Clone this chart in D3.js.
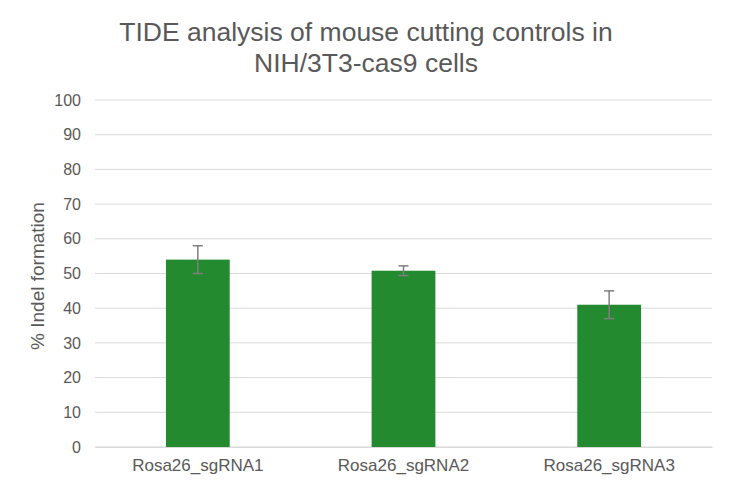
<!DOCTYPE html>
<html><head><meta charset="utf-8">
<script src="https://cdn.jsdelivr.net/npm/d3@7"></script>
<style>body{margin:0;background:#fff}svg{display:block;font-family:"Liberation Sans",Arial,sans-serif}</style>
</head><body><svg id="c" width="732" height="490"></svg>
<script>
const categories = ["Rosa26_sgRNA1","Rosa26_sgRNA2","Rosa26_sgRNA3"];
const values = [54, 50.8, 41];
const errors = [4, 1.4, 4];
const yTicks = [0,10,20,30,40,50,60,70,80,90,100];

const svg = d3.select("#c");
const m = {left:95, right:20, top:100, bottom:43};
const W = 732, H = 490;
const x = d3.scaleBand().domain(categories).range([m.left, W-m.right]).paddingInner(0.69).paddingOuter(0.345);
const y = d3.scaleLinear().domain([0,100]).range([H-m.bottom, m.top]);

svg.append("g").selectAll("line").data(yTicks).join("line")
  .attr("x1", m.left).attr("x2", W-m.right)
  .attr("y1", d=>y(d)).attr("y2", d=>y(d))
  .attr("stroke", "#d9d9d9").attr("stroke-width", 1);

const ya = svg.append("g").attr("transform", `translate(${m.left},0)`)
  .call(d3.axisLeft(y).tickValues(yTicks).tickSize(0).tickPadding(14));
ya.select(".domain").remove();
ya.selectAll("text").attr("fill","#595959").style("font-size","16px").style("font-family","Liberation Sans, Arial, sans-serif");

svg.append("g").selectAll("rect").data(values).join("rect")
  .attr("x", (d,i)=>x(categories[i])).attr("width", x.bandwidth())
  .attr("y", d=>y(d)).attr("height", d=>y(0)-y(d))
  .attr("fill", "#238a2f");

const eb = svg.append("g").attr("stroke","#7f7f7f").attr("stroke-width",1.5);
values.forEach((v,i)=>{
  const cx = x(categories[i]) + x.bandwidth()/2;
  eb.append("line").attr("x1",cx).attr("x2",cx).attr("y1",y(v+errors[i])).attr("y2",y(v-errors[i]));
  eb.append("line").attr("x1",cx-5).attr("x2",cx+5).attr("y1",y(v+errors[i])).attr("y2",y(v+errors[i]));
  eb.append("line").attr("x1",cx-5).attr("x2",cx+5).attr("y1",y(v-errors[i])).attr("y2",y(v-errors[i]));
});

const xa = svg.append("g").attr("transform", `translate(0,${y(0)})`)
  .call(d3.axisBottom(x).tickSize(0).tickPadding(12));
xa.select(".domain").attr("stroke","#d9d9d9");
xa.selectAll("text").attr("fill","#595959").style("font-size","17px").style("font-family","Liberation Sans, Arial, sans-serif");

svg.append("text").attr("transform","translate(44,276) rotate(-90)")
  .attr("text-anchor","middle").attr("fill","#595959").style("font-size","19px")
  .text("% Indel formation");

const title = svg.append("text").attr("text-anchor","middle").attr("fill","#595959").style("font-size","26.5px");
title.append("tspan").attr("x",366).attr("y",41).text("TIDE analysis of mouse cutting controls in");
title.append("tspan").attr("x",366).attr("y",72).text("NIH/3T3-cas9 cells");
</script></body></html>
